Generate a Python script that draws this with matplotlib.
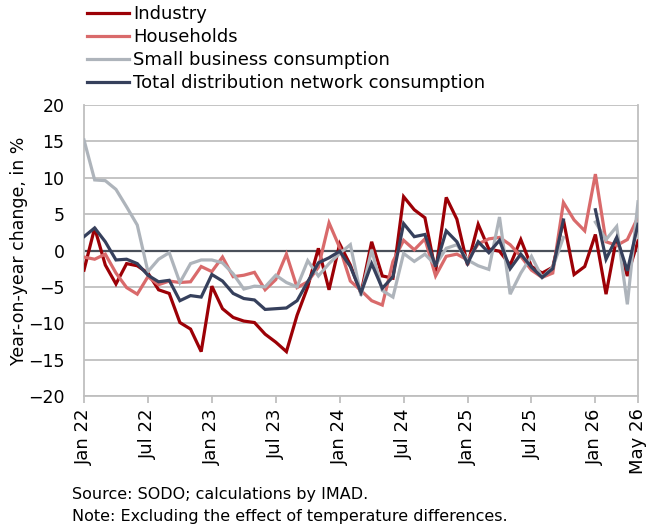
import numpy as np
import pandas as pd
import matplotlib
matplotlib.use('Agg')
import matplotlib.pyplot as plt

# monthly, Jan 2022 - May 2026, year-on-year change in %
months = pd.date_range('2022-01-01', '2026-05-01', freq='MS')

industry = [-2.7, 3.1, -2.0, -4.6, -1.8, -2.1, -3.1, -5.4, -5.9, -9.9, -10.8, -13.9,
            -4.9, -8.0, -9.2, -9.7, -9.9, -11.5, -12.6, -13.9, -8.9, -5.0, 0.3, -5.4,
            0.9, -2.0, -5.9, 1.2, -3.5, -3.8, 7.4, 5.6, 4.5, -2.9, 7.3, 4.3,
            -2.0, 3.6, 0.2, -0.1, -2.0, 1.5, -2.2, -3.1, -2.3, 4.2, -3.3, -2.2,
            2.2, -6.0, 1.8, -3.5, 1.3]
households = [-0.9, -1.2, -0.5, -3.1, -5.1, -6.0, -3.6, -4.7, -4.2, -4.4, -4.3, -2.2,
              -2.9, -0.9, -3.6, -3.4, -3.0, -5.4, -4.0, -0.5, -5.1, -4.3, -2.3, 3.8,
              0.4, -4.2, -5.5, -6.9, -7.5, -1.5, 1.4, 0.1, 1.6, -3.5, -0.8, -0.5,
              -1.3, 0.9, 1.6, 1.8, 0.8, -0.8, -2.7, -3.7, -3.1, 6.6, 4.2, 2.7,
              10.5, 1.2, 0.7, 1.5, 4.6]
small_business = [15.2, 9.7, 9.6, 8.4, 6.0, 3.5, -2.9, -1.2, -0.3, -4.4, -1.8, -1.3,
                  -1.3, -1.7, -3.2, -5.3, -4.9, -5.0, -3.4, -4.4, -5.0, -1.4, -3.5, -1.8,
                  -0.4, 0.8, -6.2, 0.1, -5.5, -6.4, -0.4, -1.5, -0.5, -2.0, 0.3, 0.8,
                  -1.3, -2.1, -2.6, 4.6, -6.0, -3.1, -0.8, -3.7, -2.3, 1.8, np.nan, np.nan,
                  3.9, 1.5, 3.3, -7.4, 6.7]
total = [1.9, 3.1, 1.2, -1.3, -1.2, -1.8, -3.4, -4.3, -4.1, -6.9, -6.2, -6.4,
         -3.3, -4.2, -5.9, -6.6, -6.8, -8.1, -8.0, -7.9, -6.9, -4.3, -1.7, -1.0,
         -0.1, -2.2, -5.8, -1.8, -5.2, -3.6, 3.7, 1.9, 2.2, -2.2, 2.7, 1.2,
         -1.8, 1.2, -0.3, 1.4, -2.5, -0.5, -2.3, -3.7, -2.5, 4.2, np.nan, np.nan,
         5.6, -1.2, 1.8, -2.8, 3.6]

labels = ['Industry', 'Households', 'Small business consumption',
          'Total distribution network consumption']
colors = ['#9c0006', '#d96a6b', '#aeb4bb', '#36405c']

tick_idx = [0, 6, 12, 18, 24, 30, 36, 42, 48, 52]

plt.rcParams['font.family'] = 'DejaVu Sans'

fig = plt.figure(figsize=(6.51, 5.32), dpi=100)
ax = fig.add_axes([84 / 651, 1 - 396 / 532, (638 - 84) / 651, (396 - 105) / 532])

x = np.arange(len(months))
series = [industry, households, small_business, total]
# gray first, then households, industry, total on top
order = [2, 1, 0, 3]
lines = {}
for k in order:
    ln, = ax.plot(x, series[k], color=colors[k], lw=2.3, label=labels[k],
                  solid_joinstyle='miter', zorder=3 + k * 0.1)
    lines[k] = ln

ax.axhline(0, color='#4a505a', lw=1.6, zorder=2.5)

ax.set_xlim(0, len(months) - 1)
ax.set_ylim(-20, 20)
ax.set_yticks(np.arange(-20, 21, 5))
ax.yaxis.grid(True, color='#bfbfbf', lw=1.3)
ax.set_axisbelow(True)

ax.set_xticks(tick_idx)
ax.set_xticklabels([months[i].strftime('%b %y') for i in tick_idx], rotation=90)

for s in ['left', 'bottom', 'right', 'top']:
    ax.spines[s].set_color('#bfbfbf')
    ax.spines[s].set_linewidth(1.3)
ax.spines['top'].set_visible(False)

ax.tick_params(axis='y', length=0, labelsize=12.5, pad=14)
ax.tick_params(axis='x', length=5, color='#bfbfbf', width=1.3, labelsize=13, pad=4)
ax.set_ylabel('Year-on-year change, in %', fontsize=12.5)
ax.yaxis.set_label_coords(-56 / 554, 0.5)

fig.legend([lines[k] for k in range(4)], labels, loc='upper left',
           bbox_to_anchor=(87 / 651, 1 - 5 / 532), frameon=False, fontsize=13,
           handlelength=2.3, handletextpad=0.25, labelspacing=0.28,
           borderpad=0, borderaxespad=0)

fig.text(72 / 651, 1 - 495 / 532, 'Source: SODO; calculations by IMAD.',
         fontsize=11.5, va='center', ha='left')
fig.text(72 / 651, 1 - 517 / 532, 'Note: Excluding the effect of temperature differences.',
         fontsize=11.5, va='center', ha='left')

fig.savefig('out.png', dpi=100)
